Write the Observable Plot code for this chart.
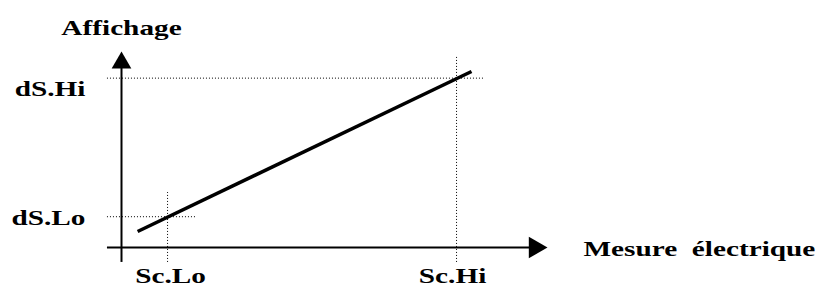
<!DOCTYPE html>
<html><head><meta charset="utf-8">
<script src="https://cdn.jsdelivr.net/npm/d3@7"></script>
<script src="https://cdn.jsdelivr.net/npm/@observablehq/plot@0.6"></script>
<style>body{margin:0;background:#fff}</style>
</head><body><div id="chart"></div>
<script>
// ---- Data (chart units) ----
const xLabels = ["Sc.Lo", "Sc.Hi"];
const xValues = [4, 29.1];
const yLabels = ["dS.Lo", "dS.Hi"];
const yValues = [2, 11];
const lineX = [1.4, 30.4];
const lineY = [1.04, 11.43];
const titleY = "Affichage";
const titleX = "Mesure  électrique";
const xAxisExtent = [-1.22, 37];     // x-axis start, arrow tip
const yAxisExtent = [-0.97, 12.73];  // y-axis start, arrow tip
const hGuideEnd = [6.43, 31.45];     // horizontal dotted guides end (dS.Lo, dS.Hi)
const vGuideEnd = [3.57, 12.47];     // vertical dotted guides end (Sc.Lo, Sc.Hi)

const linePts = lineX.map((x, i) => ({x, y: lineY[i]}));
const hGuides = yValues.map((y, i) => ({y, x1: xAxisExtent[0], x2: hGuideEnd[i]}));
const vGuides = xValues.map((x, i) => ({x, y1: yAxisExtent[0], y2: vGuideEnd[i]}));

const font = {fontSize: 22, fontWeight: "bold", fill: "black", lineAnchor: "bottom"};
const triOffset = r => 2 * Math.sqrt(Math.PI * r * r / (3 * Math.sqrt(3)));
const rY = 7.3, rX = 8;

const svg = Plot.plot({
  width: 819, height: 287,
  marginLeft: 121, marginRight: 272, marginTop: 51, marginBottom: 40,
  x: {domain: [0, xAxisExtent[1]], axis: null},
  y: {domain: [0, yAxisExtent[1]], axis: null},
  style: {fontFamily: "'Liberation Serif', 'Times New Roman', serif", background: "white", overflow: "visible", whiteSpace: "pre"},
  marks: [
    // dotted guides
    Plot.ruleY(hGuides, {y: "y", x1: "x1", x2: "x2", stroke: "black", strokeWidth: 1, strokeDasharray: "1,2"}),
    Plot.ruleX(vGuides, {x: "x", y1: "y1", y2: "y2", stroke: "black", strokeWidth: 1, strokeDasharray: "1,2"}),
    // axes
    Plot.ruleX([0], {y1: yAxisExtent[0], y2: 12, stroke: "black", strokeWidth: 2}),
    Plot.ruleY([0], {x1: xAxisExtent[0], x2: 36, stroke: "black", strokeWidth: 2}),
    Plot.dot([{x: 0, y: yAxisExtent[1]}], {x: "x", y: "y", symbol: "triangle", r: rY, fill: "black", stroke: null, dy: triOffset(rY)}),
    Plot.dot([{x: xAxisExtent[1], y: 0}], {x: "x", y: "y", symbol: "triangle", r: rX, fill: "black", stroke: null, rotate: 90, dx: -triOffset(rX)}),
    // data line
    Plot.line(linePts, {x: "x", y: "y", stroke: "black", strokeWidth: 3.5, strokeLinecap: "butt"}),
    // tick labels
    Plot.text([yLabels[0]], {x: [0], y: [yValues[0]], text: d => d, textAnchor: "end", dx: -36, dy: 8, ...font}),
    Plot.text([yLabels[1]], {x: [0], y: [yValues[1]], text: d => d, textAnchor: "end", dx: -36, dy: 18, ...font}),
    Plot.text([xLabels[0]], {x: [xValues[0]], y: [0], text: d => d, textAnchor: "middle", dx: 3, dy: 35, ...font}),
    Plot.text([xLabels[1]], {x: [xValues[1]], y: [0], text: d => d, textAnchor: "middle", dx: -4, dy: 35, ...font}),
    // axis titles
    Plot.text([titleY], {x: [0], y: [yAxisExtent[1]], text: d => d, textAnchor: "middle", dy: -17, ...font}),
    Plot.text([titleX], {x: [xAxisExtent[1]], y: [0], text: d => d, textAnchor: "start", dx: 36, dy: 8, ...font})
  ]
});
document.getElementById("chart").append(svg);
// the original lettering is horizontally stretched
const stretch = 1.33;
svg.querySelectorAll("text").forEach(t => {
  const w = t.getComputedTextLength();
  t.setAttribute("textLength", (w * stretch).toFixed(1));
  t.setAttribute("lengthAdjust", "spacingAndGlyphs");
});
</script>
</body></html>
